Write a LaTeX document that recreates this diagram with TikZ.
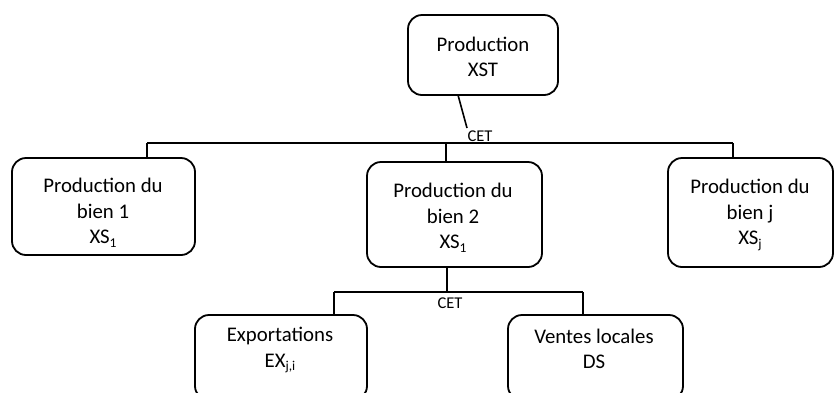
\documentclass[tikz,border=0pt]{standalone}
\usepackage{fontspec}
\setmainfont{Carlito}
\usetikzlibrary{calc}
\newcommand{\lowsub}[1]{\raisebox{-0.35ex}{\fontsize{13.5}{14}\selectfont #1}}
\begin{document}
\begin{tikzpicture}[x=1pt,y=-1pt,
  boxstyle/.style={draw,line width=1.8pt,rounded corners=14pt,inner sep=0pt},
  txt/.style={align=center,inner sep=0pt,font=\fontsize{20.8}{25.5}\selectfont},
  cetlabel/.style={inner sep=0pt,font=\fontsize{16.5}{18}\selectfont},
  conn/.style={line width=1.6pt}]
\useasboundingbox (0,0) rectangle (838,392);
\clip (0,0) rectangle (838,392);
% boxes
\node[boxstyle,minimum width=150pt,minimum height=80pt] (top) at (483,55) {};
\node[boxstyle,minimum width=183pt,minimum height=97pt] (b1) at (103.5,206.5) {};
\node[boxstyle,minimum width=175pt,minimum height=105pt] (b2) at (454.5,214.5) {};
\node[boxstyle,minimum width=165pt,minimum height=109pt] (bj) at (750.5,212.5) {};
\node[boxstyle,minimum width=172pt,minimum height=85pt] (ex) at (281,357.5) {};
\node[boxstyle,minimum width=175pt,minimum height=85pt] (ds) at (595.5,357.5) {};
% texts
\node[txt] (ttop) at (483,57) {Production\\XST};
\node[txt] (tb1) at (103,213) {Production du\\bien 1\\XS\lowsub{1}};
\node[txt] (tb2) at (453,218) {Production du\\bien 2\\XS\lowsub{1}};
\node[txt] (tbj) at (750,215) {Production du\\bien j\\XS\lowsub{j}};
\node[txt] (tex) at (280,350) {Exportations\\EX\lowsub{j,i}};
\node[txt] (tds) at (594,349) {Ventes locales\\DS};
% CET labels
\node[cetlabel] (cet1) at (480,136) {CET};
\node[cetlabel] (cet2) at (450,303) {CET};
% upper connectors
\coordinate (s1) at (458,95);
\coordinate (s2) at (467,128);
\draw[conn] (s1) -- (s2);
\coordinate (h1) at (147,143);
\coordinate (hm) at (446,143);
\coordinate (h2) at (733,143);
\draw[conn] (h1) -- (h2);
\draw[conn] (h1) -- (h1 |- b1.north);
\draw[conn] (hm) -- (hm |- b2.north);
\draw[conn] (h2) -- (h2 |- bj.north);
% lower connectors
\coordinate (v1) at (447,292);
\coordinate (l1) at (334,292);
\coordinate (l2) at (583,292);
\draw[conn] (v1 |- b2.south) -- (v1);
\draw[conn] (l1) -- (l2);
\draw[conn] (l1) -- (l1 |- ex.north);
\draw[conn] (l2) -- (l2 |- ds.north);
\end{tikzpicture}
\end{document}
